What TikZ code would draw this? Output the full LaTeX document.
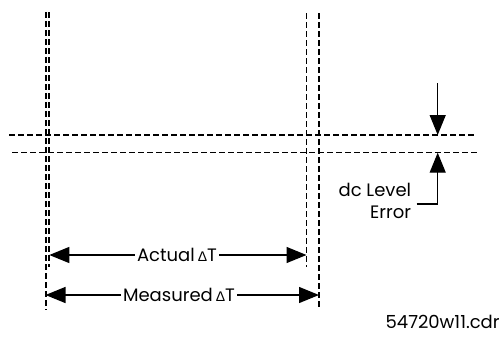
\documentclass[tikz,border=0pt]{standalone}
\usepackage{fontspec}
\setmainfont{Poppins}
\newfontfamily\greekfont{Liberation Sans}
\usetikzlibrary{arrows.meta,positioning,calc}
\newcommand{\dsym}{{\fontsize{7}{8}\greekfont Δ}}
\tikzset{
  markthick/.style={line width=1pt,dash pattern=on 3pt off 1.5pt},
  markthin/.style={line width=0.5pt,dash pattern=on 3pt off 1.5pt},
  dimline/.style={line width=0.65pt,-{Triangle[length=10pt,width=8pt]}},
  lbl/.style={font=\fontsize{9}{10.5}\selectfont,inner sep=1pt}
}

\begin{document}
\begin{tikzpicture}[x=0.5pt,y=-0.5pt]
  \useasboundingbox (0,0) rectangle (503,337);
  % time markers
  \coordinate (mtop) at (45.5,12);  \coordinate (mbot) at (45.5,310);
  \coordinate (atop) at (49.3,12);  \coordinate (abot) at (49.3,267);
  \coordinate (ptop) at (306.5,13); \coordinate (pbot) at (306.5,267);
  \coordinate (qtop) at (319,13);   \coordinate (qbot) at (319,307);
  \draw[markthick] (mtop) -- (mbot);
  \draw[markthick] (atop) -- (abot);
  \draw[markthin] (ptop) -- (pbot);
  \draw[markthick] (qtop) -- (qbot);
  % dc levels
  \coordinate (hiL) at (9,135);    \coordinate (hiR) at (475,135);
  \coordinate (loL) at (12,152.7); \coordinate (loR) at (478,152.7);
  \draw[markthick] (hiL) -- (hiR);
  \draw[markthin] (loL) -- (loR);
  % dc level error
  \coordinate (dntail) at (437.7,83);
  \coordinate (dnhead) at (437.7,135);
  \coordinate (uphead) at (437.7,152.7);
  \coordinate (elbow) at (437.7,204);
  \draw[dimline] (dntail) -- (dnhead);
  \node[lbl,anchor=east,align=right] (dclevel) at (413.5,190) {dc Level};
  \node[lbl,anchor=east] (errlbl) at (413.5,212) {Error};
  \draw[dimline] ($(errlbl.east |- elbow)+(3,0)$) -- (elbow) -- (uphead);
  % delta T
  \node[lbl] (actual) at (177,255) {Actual\,\dsym T};
  \node[lbl] (measured) at (179,295) {Measured\,\dsym T};
  \draw[dimline] (actual) -- (actual -| ptop);
  \draw[dimline] (actual) -- (actual -| atop);
  \draw[dimline] (measured) -- (measured -| qtop);
  \draw[dimline] (measured) -- (measured -| mtop);
  \node[lbl,anchor=east] (fname) at (502,322) {54720w11.cdr};
\end{tikzpicture}
\end{document}
